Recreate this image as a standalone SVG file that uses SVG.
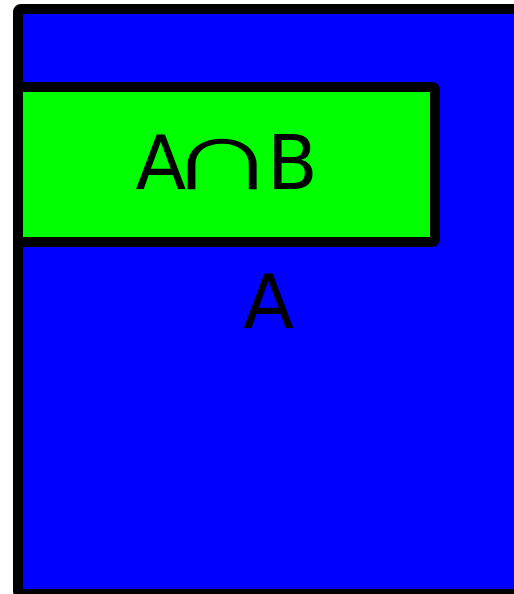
<svg xmlns="http://www.w3.org/2000/svg" width="514" height="594" viewBox="0 0 514 594">
<style>
.box{stroke:#000;stroke-width:10}
.lbl{font-family:"DejaVu Sans",sans-serif;font-size:74px;fill:#000}
.sym{font-family:"Open Sans",sans-serif;font-size:100px;fill:#000;text-anchor:middle}
</style>
<g id="setA">
<rect class="box" x="18" y="9" width="520" height="585" rx="3" fill="#0000ff"/>
<text class="lbl" x="268.5" y="328" text-anchor="middle">A</text>
</g>
<g id="setAnB">
<rect class="box" x="18" y="87" width="417" height="155" rx="3" fill="#00ff00"/>
<text class="lbl" x="135.5" y="188.5">A</text>
<text class="sym" transform="translate(222,188.5) scale(1.55,1)">∩</text>
<text class="lbl" x="267" y="188.5">B</text>
</g>
<g id="connectors"/>
</svg>
